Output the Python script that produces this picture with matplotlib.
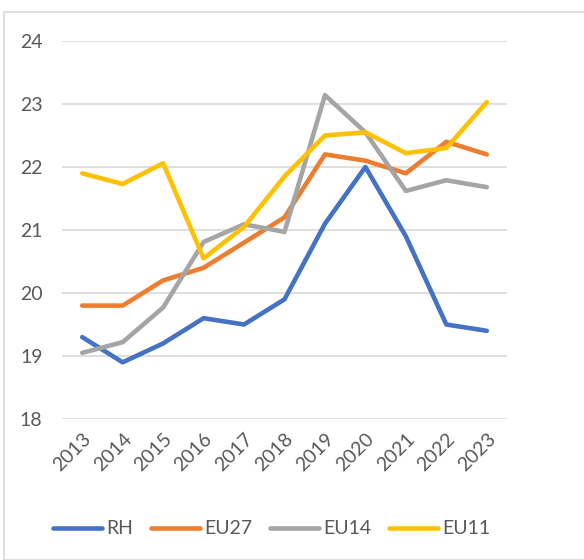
import matplotlib
matplotlib.use("Agg")
import matplotlib.pyplot as plt
from matplotlib.patches import Rectangle

years = ["2013", "2014", "2015", "2016", "2017", "2018", "2019", "2020", "2021", "2022", "2023"]
rh   = [19.3, 18.9, 19.2, 19.6, 19.5, 19.9, 21.1, 22.0, 20.9, 19.5, 19.4]
eu27 = [19.8, 19.8, 20.2, 20.4, 20.8, 21.2, 22.2, 22.1, 21.9, 22.4, 22.2]
eu14 = [19.05, 19.22, 19.77, 20.81, 21.09, 20.97, 23.14, 22.55, 21.62, 21.79, 21.68]
eu11 = [21.9, 21.73, 22.06, 20.55, 21.05, 21.85, 22.5, 22.55, 22.22, 22.3, 23.03]
series_names = ["RH", "EU27", "EU14", "EU11"]
colors = ["#4472C4", "#ED7D31", "#A5A5A5", "#FFC000"]
yticks = [18, 19, 20, 21, 22, 23, 24]

plt.rcParams['font.family'] = ['Lato', 'DejaVu Sans']
txt = "#595959"

fig = plt.figure(figsize=(5.84, 5.6), dpi=100)
fig.patches.append(Rectangle((4/584, 0), 1, 1 - 12/560, transform=fig.transFigure,
                             fill=False, edgecolor="#D9D9D9", linewidth=1.2))
ax = fig.add_axes([62/584, 1 - 419/560, (507 - 62)/584, (419 - 41)/560])
x = list(range(len(years)))
for name, vals, c in zip(series_names, [rh, eu27, eu14, eu11], colors):
    ax.plot(x, vals, color=c, linewidth=3.3, label=name, solid_capstyle='round', solid_joinstyle='round')

ax.set_xlim(-0.5, len(years) - 0.5)
ax.set_ylim(18, 24)
ax.set_yticks(yticks)
ax.set_yticklabels([str(v) for v in yticks], color=txt, fontsize=14)
ax.set_xticks(x)
ax.set_xticklabels(years, rotation=45, ha='right', rotation_mode='anchor', color=txt, fontsize=14)
ax.tick_params(axis='both', length=0)
ax.tick_params(axis='y', pad=14)
ax.tick_params(axis='x', pad=8)
ax.grid(axis='y', color="#D9D9D9", linewidth=1.2)
ax.set_axisbelow(True)
for s in ax.spines.values():
    s.set_visible(False)

fig.legend(loc='center', bbox_to_anchor=(272/584, 1 - 529/560), ncol=4, frameon=False,
           fontsize=14, handlelength=2.5, columnspacing=0.9, handletextpad=0.25,
           labelcolor=txt)

fig.savefig("out.png", dpi=100)
